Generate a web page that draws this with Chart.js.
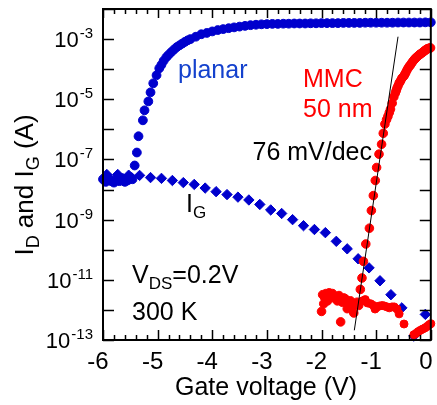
<!DOCTYPE html>
<html>
<head>
<meta charset="utf-8">
<script src="https://cdn.jsdelivr.net/npm/chart.js@4.4.0/dist/chart.umd.min.js"></script>
<style>
  html, body { margin: 0; padding: 0; background: #fff; }
</style>
</head>
<body>
<canvas id="ivChart" width="437" height="405"></canvas>
<script>
// planar device, drain current (circles)
const planarV = [
  -6.00, -5.95, -5.90, -5.85, -5.80, -5.75, -5.70, -5.65, -5.60, -5.55, -5.50, -5.46,
  -5.42, -5.38, -5.35, -5.27, -5.24, -5.17, -5.13, -5.08, -5.02, -4.97,
  -4.93, -4.89, -4.84, -4.80, -4.75, -4.70, -4.65, -4.60, -4.55, -4.50, -4.45, -4.40,
  -4.30, -4.20, -4.10, -4.00, -3.90, -3.80, -3.70, -3.60, -3.50, -3.40, -3.30, -3.20, -3.10, -3.00,
  -2.90, -2.80, -2.70, -2.60, -2.50, -2.40, -2.30, -2.20, -2.10, -2.00,
  -1.90, -1.80, -1.70, -1.60, -1.50, -1.40, -1.30, -1.20, -1.10, -1.00,
  -0.90, -0.80, -0.70, -0.60, -0.50, -0.40, -0.30, -0.20, -0.10, 0.00,
];
const planarId = [
  2.2e-8, 1.8e-8, 2.5e-8, 1.9e-8, 1.7e-8, 2.3e-8, 1.9e-8, 2.4e-8, 1.8e-8, 2.0e-8, 2.6e-8, 2.2e-8,
  6.3e-8, 1.7e-7, 5.9e-7, 2.0e-6, 4.3e-6, 8.5e-6, 1.7e-5, 3.4e-5, 6.3e-5, 1.07e-4,
  1.4e-4, 1.9e-4, 2.5e-4, 3.0e-4, 3.7e-4, 4.5e-4, 5.4e-4, 6.2e-4, 7.1e-4, 8.1e-4, 9.1e-4, 1.0e-3,
  1.2e-3, 1.45e-3, 1.6e-3, 1.8e-3, 2.0e-3, 2.15e-3, 2.3e-3, 2.45e-3, 2.6e-3, 2.75e-3, 2.9e-3, 3.0e-3, 3.1e-3, 3.15e-3,
  3.2e-3, 3.2e-3, 3.25e-3, 3.25e-3, 3.3e-3, 3.3e-3, 3.3e-3, 3.35e-3, 3.35e-3, 3.4e-3,
  3.4e-3, 3.4e-3, 3.4e-3, 3.45e-3, 3.45e-3, 3.45e-3, 3.45e-3, 3.5e-3, 3.5e-3, 3.5e-3,
  3.5e-3, 3.5e-3, 3.5e-3, 3.55e-3, 3.55e-3, 3.55e-3, 3.55e-3, 3.55e-3, 3.6e-3, 3.6e-3,
];

// planar device, gate current (diamonds)
const planarGateV = [
  -5.93, -5.73, -5.53, -5.33, -5.13, -4.93, -4.73, -4.53, -4.33, -4.13,
  -3.93, -3.73, -3.53, -3.33, -3.13, -2.93, -2.73, -2.53, -2.33, -2.13,
  -1.93, -1.73, -1.53, -1.33, -1.13, -0.93, -0.73, -0.53, -0.31, -0.10,
];
const planarIg = [
  3.16e-8, 3.16e-8, 3.0e-8, 2.95e-8, 2.5e-8, 2.35e-8, 2.0e-8, 1.7e-8, 1.48e-8, 1.12e-8,
  8.5e-9, 6.8e-9, 5.6e-9, 4.5e-9, 3.2e-9, 2.1e-9, 1.6e-9, 1.0e-9, 6.3e-10, 4.7e-10,
  3.7e-10, 1.9e-10, 1.07e-10, 5.0e-11, 2.5e-11, 9.3e-12, 3.2e-12, 1.17e-12, 1.35e-13, 7.1e-13,
];

// MMC 50 nm device, drain current
const mmcV = [
  -2.00, -1.98, -1.96, -1.94, -1.92, -1.89, -1.86, -1.83, -1.80, -1.77, -1.74, -1.71, -1.68,
  -1.65, -1.62, -1.59, -1.56, -1.53, -1.50, -1.47, -1.44, -1.41, -1.38, -1.35, -1.32,
  -1.29, -1.26, -1.233, -1.19, -1.124, -1.088, -1.052, -1.016, -0.992, -0.948, -0.901,
  -0.870, -0.840, -0.81, -0.785, -0.76, -0.738, -0.707, -0.677, -0.65, -0.635, -0.62, -0.60, -0.58,
  -0.565, -0.55, -0.53, -0.51, -0.49, -0.475, -0.46, -0.44, -0.42, -0.40, -0.385, -0.37, -0.35,
  -0.33, -0.31, -0.295, -0.28, -0.26, -0.24, -0.22, -0.205, -0.19, -0.17, -0.15, -0.135,
  -0.12, -0.105, -0.09, -0.07, -0.055, -0.04, -0.02, -0.005,
];
const mmcId = [
  8.9e-13, 3.2e-12, 1.6e-12, 2.5e-12, 3.5e-12, 2.0e-12, 3.7e-12, 3.2e-12, 3.5e-12, 2.5e-12, 2.8e-12, 2.0e-12, 3.0e-12,
  4.0e-13, 1.8e-12, 2.5e-12, 2.3e-12, 1.1e-12, 1.8e-12, 2.0e-12, 1.26e-12, 7.9e-13, 1.6e-12, 1.8e-12, 1.4e-12,
  4.8e-12, 1.15e-11, 4.1e-11, 1.55e-10, 5.2e-10, 2.0e-9, 6.3e-9, 2.0e-8, 5.4e-8, 1.5e-7, 3.2e-7,
  7.4e-7, 1.5e-6, 2.1e-6, 2.7e-6, 3.6e-6, 4.7e-6, 7.4e-6, 1.2e-5, 1.6e-5, 1.9e-5, 2.3e-5, 2.8e-5, 3.4e-5,
  3.8e-5, 4.2e-5, 5.0e-5, 5.5e-5, 6.0e-5, 6.8e-5, 7.6e-5, 9.0e-5, 1.05e-4, 1.2e-4, 1.3e-4, 1.4e-4, 1.6e-4,
  1.8e-4, 2.0e-4, 2.15e-4, 2.3e-4, 2.5e-4, 2.7e-4, 2.9e-4, 3.05e-4, 3.2e-4, 3.4e-4, 3.6e-4, 3.8e-4,
  4.0e-4, 4.2e-4, 4.4e-4, 4.7e-4, 4.8e-4, 4.9e-4, 5.0e-4, 5.1e-4,
];

// MMC device, leakage floor near 0 V
const mmcGateV = [
  -1.25, -1.20, -1.16, -1.10, -1.05, -1.02, -0.98, -0.94, -0.89, -0.85, -0.80, -0.76, -0.71,
  -0.67, -0.62, -0.58, -0.49, -0.31, -0.27, -0.23, -0.19, -0.15, -0.11, -0.07, -0.03, 0.00,
];
const mmcIg = [
  2.0e-12, 2.2e-12, 1.7e-12, 1.6e-12, 1.4e-12, 1.07e-12, 1.26e-12, 1.35e-12, 1.4e-12, 1.35e-12, 1.26e-12, 1.17e-12, 1.26e-12,
  1.26e-12, 1.07e-12, 7.4e-13, 3.4e-13, 1.5e-13, 1.66e-13, 1.9e-13, 2.1e-13, 2.3e-13, 2.5e-13, 2.8e-13, 3.2e-13, 3.5e-13,
];

// subthreshold slope guide line (76 mV/dec)
const fitV = [-1.40, -0.60];
const fitI = [2.1e-13, 1.2e-3];

const xTickValues = [-6, -5, -4, -3, -2, -1, 0];
const xTickLabels = ["-6", "-5", "-4", "-3", "-2", "-1", "0"];
const yLabelExps = ["-13", "-11", "-9", "-7", "-5", "-3"];

const FONT = "'Liberation Sans', Arial, Helvetica, sans-serif";
const BLUE = "rgb(0, 0, 205)";
const RED = "rgb(255, 0, 0)";

const pts = (xs, ys) => xs.map((v, i) => ({ x: v, y: ys[i] }));

// draw a run of text pieces (normal / sub / superscript) starting at x
function richText(ctx, x, y, parts, color) {
  ctx.fillStyle = color;
  ctx.textAlign = "left";
  ctx.textBaseline = "alphabetic";
  let cx = x;
  parts.forEach(([t, size, dy]) => {
    ctx.font = size + "px " + FONT;
    ctx.fillText(t, cx, y + dy);
    cx += ctx.measureText(t).width;
  });
  return cx - x;
}
function richWidth(ctx, parts) {
  let w = 0;
  parts.forEach(([t, size]) => {
    ctx.font = size + "px " + FONT;
    w += ctx.measureText(t).width;
  });
  return w;
}

const frameAndText = {
  id: "frameAndText",
  afterDatasetsDraw(chart) {
    const { ctx, chartArea: a } = chart;
    const xs = chart.scales.x, ys = chart.scales.y;
    ctx.save();

    // ticks, pointing inward on all four sides
    ctx.strokeStyle = "#000";
    ctx.lineWidth = 1.5;
    ctx.beginPath();
    for (let k = -30; k <= 0; k++) {
      const px = Math.round(xs.getPixelForValue(k / 5)) + 0.5;
      const major = k % 5 === 0;
      ctx.moveTo(px, a.bottom); ctx.lineTo(px, a.bottom - (major ? 10 : 5));
      ctx.moveTo(px, a.top); ctx.lineTo(px, a.top + (major ? 9 : 5));
    }
    for (let e = -13; e <= -2; e++) {
      const py = Math.round(ys.getPixelForValue(Math.pow(10, e))) + 0.5;
      ctx.moveTo(a.left, py); ctx.lineTo(a.left + 11, py);
      ctx.moveTo(a.right, py); ctx.lineTo(a.right - 11, py);
    }
    ctx.stroke();

    // frame
    ctx.lineWidth = 2;
    ctx.strokeRect(a.left, a.top, a.right - a.left, a.bottom - a.top);

    // x tick labels
    ctx.fillStyle = "#000";
    ctx.font = "24px " + FONT;
    ctx.textAlign = "center";
    ctx.textBaseline = "alphabetic";
    xTickValues.forEach((v, i) => {
      ctx.fillText(xTickLabels[i], xs.getPixelForValue(v) - 5, 369);
    });

    // y tick labels 10^n
    yLabelExps.forEach((ex) => {
      const py = ys.getPixelForValue(Math.pow(10, Number(ex)));
      ctx.font = "15px " + FONT;
      ctx.textAlign = "right";
      const supRight = a.left - 10;
      ctx.fillText(ex, supRight, py - 1);
      const supW = ctx.measureText(ex).width;
      ctx.font = "22px " + FONT;
      ctx.fillText("10", supRight - supW - 1, py + 8);
    });

    // axis titles
    ctx.font = "25px " + FONT;
    ctx.textAlign = "center";
    ctx.fillText("Gate voltage (V)", 266, 395);

    const yTitle = [["I", 26, 0], ["D", 18, 6], [" and I", 26, 0], ["G", 18, 6], [" (A)", 26, 0]];
    ctx.save();
    ctx.translate(33, 185);
    ctx.rotate(-Math.PI / 2);
    richText(ctx, -richWidth(ctx, yTitle) / 2, 0, yTitle, "#000");
    ctx.restore();

    // annotations
    richText(ctx, 178, 78, [["planar", 25, 0]], "rgb(20, 65, 205)");
    richText(ctx, 303, 87, [["MMC", 25, 0]], RED);
    richText(ctx, 303, 117, [["50 nm", 25, 0]], RED);
    ctx.font = "25px " + FONT;
    ctx.fillStyle = "#000";
    ctx.textAlign = "right";
    ctx.fillText("76 mV/dec", 372, 160);
    richText(ctx, 186, 212, [["I", 25, 0], ["G", 17, 6]], "#000");
    richText(ctx, 132, 283, [["V", 25, 0], ["DS", 17, 6], ["=0.2V", 25, 0]], "#000");
    richText(ctx, 132, 320, [["300 K", 25, 0]], "#000");

    ctx.restore();
  },
};

new Chart(document.getElementById("ivChart"), {
  type: "scatter",
  data: {
    datasets: [
      {
        label: "fit",
        data: pts(fitV, fitI),
        showLine: true,
        borderColor: "#000",
        borderWidth: 1,
        pointRadius: 0,
        order: 0,
      },
      {
        label: "MMC I_D",
        data: pts(mmcV, mmcId),
        pointStyle: "circle",
        pointRadius: 4.3,
        backgroundColor: RED,
        borderColor: RED,
        borderWidth: 1,
        order: 1,
      },
      {
        label: "MMC leakage",
        data: pts(mmcGateV, mmcIg),
        pointStyle: "circle",
        pointRadius: 4,
        backgroundColor: RED,
        borderColor: RED,
        borderWidth: 1,
        order: 2,
      },
      {
        label: "planar I_G",
        data: pts(planarGateV, planarIg),
        pointStyle: "rectRot",
        pointRadius: 5.2,
        backgroundColor: BLUE,
        borderColor: BLUE,
        borderWidth: 1,
        order: 3,
      },
      {
        label: "planar I_D",
        data: pts(planarV, planarId),
        pointStyle: "circle",
        pointRadius: 4.4,
        backgroundColor: BLUE,
        borderColor: BLUE,
        borderWidth: 1,
        order: 4,
      },
    ],
  },
  options: {
    responsive: false,
    animation: false,
    clip: false,
    layout: { padding: { left: 103, right: 4, top: 9, bottom: 65 } },
    plugins: {
      legend: { display: false },
      tooltip: { enabled: false },
    },
    scales: {
      x: { type: "linear", min: -6, max: 0, display: false },
      y: { type: "logarithmic", min: 1e-13, max: 1e-2, display: false },
    },
  },
  plugins: [frameAndText],
});
</script>
</body>
</html>
